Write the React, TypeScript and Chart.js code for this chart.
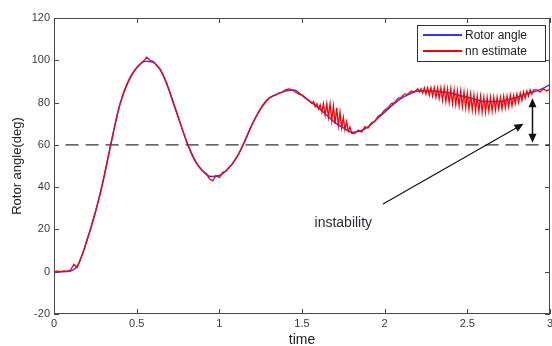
import { useEffect, useRef } from 'react';
import { Chart, registerables } from 'chart.js';

Chart.register(...registerables);

// ---- data ----
// Rotor angle, sampled every 0.05 s from t = 0
const rotorTimeStep = 0.05;
const rotorAngle = [
  0, 0, 0.3, 4, 15, 28, 44, 62.5, 79.5, 90,
  96.5, 99.5, 99, 94.5, 85, 73.5, 62, 53, 47.5, 45,
  45.5, 48.5, 53.5, 61, 70, 77, 82, 84, 85.5, 86,
  83.5, 80.5, 77.5, 74, 70.5, 68, 66, 66.5, 68.5, 72,
  75.5, 79, 82, 84, 85.5, 85.5, 85.5, 85, 84.5, 83.5,
  82.5, 81.5, 80.5, 80.5, 80.5, 81.5, 82.5, 84, 85, 86.5,
  88.5,
];

// nn estimate, read piece by piece (start time, sampling step, values)
const nnEarlyStart = 0;
const nnEarlyStep = 0.02;
const nnEarly = [
  0, 0.3, 0, 0.4, 0.2, 0.8, 3.5, 2, 6, 10,
  15, 20, 25.5, 31, 37, 44, 51.5, 59, 66.5, 73.5,
  79.5, 84.5, 88.5, 92, 94.5, 96.5, 98, 99.5, 101.5, 100,
  99.5, 97.5, 96, 93, 89.5, 85, 80, 75.5, 71, 66.5,
  62, 58, 54.5, 51.5, 49.5, 47.5, 46.5, 44, 43, 45.5,
  44.5, 47, 47.5, 49.5, 51, 53.5, 56, 59.5, 63, 66.5,
  70, 73, 76, 78.5, 80.5, 82, 83, 83.5, 84.5, 85,
  86, 86.5, 86, 85, 84, 83.5, 82, 81,
];
const nnBurst1Start = 1.56;
const nnBurst1Step = 0.01;
const nnBurst1 = [
  79.5, 80.5, 78, 79.5, 77, 79, 75.5, 79.5, 74, 79.5,
  73, 79.5, 71.5, 78.5, 70, 77.5, 69, 75.5, 68, 73,
  67, 71, 66.5, 68.5, 65.5,
];
const nnMidStart = 1.82;
const nnMidStep = 0.02;
const nnMid = [
  65.5, 67, 66, 68.5, 68, 70.5, 71, 73.5, 74.5,
  76.5, 77.5, 79.5, 80, 82, 82.5, 84, 84, 85.5, 85,
];
const nnBurst2Start = 2.2;
const nnBurst2Step = 0.01;
const nnBurst2 = [
  86.5, 85, 86.5, 84.5, 87, 84, 87, 83.5, 87, 83,
  87, 82.5, 87, 82, 87, 81, 87, 80.5, 86.5, 80,
  86.5, 79.5, 86, 79, 85.5, 78.5, 85.5, 78, 85, 77.5,
  84.5, 77, 84, 76.5, 83.5, 76, 83, 76, 83, 75.5,
  82.5, 75.5, 82.5, 76, 82.5, 76, 82.5, 76.5, 82.5, 77,
  82.5, 77, 83, 77.5, 83, 78, 83.5, 78.5, 83.5, 79.5,
  84, 80, 84.5, 81, 85, 82, 85.5, 83, 86, 84,
  86,
];
const nnLateStart = 2.92;
const nnLateStep = 0.02;
const nnLate = [86, 85, 86.5, 85.5, 86.5];

const referenceLevel = 60;
const referenceSpan = [0.07, 3];

const xTickValues = [0, 0.5, 1, 1.5, 2, 2.5, 3];
const yTickValues = [-20, 0, 20, 40, 60, 80, 100, 120];

const seriesLabels = ['Rotor angle', 'nn estimate'];
const xTitle = 'time';
const yTitle = 'Rotor angle(deg)';

const annotationText = 'instability';
const annotationAt = [1.75, 23];
const pointerFrom = [1.99, 32];
const pointerTo = [2.84, 70];
const marginArrowX = 2.89;
const marginArrowRange = [61, 82];

const BLUE = '#3434ff';
const RED = '#ff0000';
const FONT = '"Liberation Sans", Arial, Helvetica, sans-serif';

function piece(start: number, step: number, values: number[]) {
  return values.map((v, i) => ({ x: +(start + i * step).toFixed(3), y: v }));
}

function arrowHead(ctx: CanvasRenderingContext2D, x: number, y: number, angle: number, len = 8, half = 3.5) {
  ctx.beginPath();
  ctx.moveTo(x, y);
  ctx.lineTo(x - len * Math.cos(angle) + half * Math.sin(angle), y - len * Math.sin(angle) - half * Math.cos(angle));
  ctx.lineTo(x - len * Math.cos(angle) - half * Math.sin(angle), y - len * Math.sin(angle) + half * Math.cos(angle));
  ctx.closePath();
  ctx.fill();
}

const framePlugin = {
  id: 'matlabFrame',
  beforeDatasetsDraw(chart: any) {
    const { ctx, chartArea, scales } = chart;
    const { left, right, top, bottom } = chartArea;
    ctx.save();
    ctx.strokeStyle = '#4a4a4a';
    ctx.lineWidth = 1;
    ctx.strokeRect(Math.round(left) + 0.5, Math.round(top) + 0.5, Math.round(right - left) - 1, Math.round(bottom - top) - 1);
    ctx.beginPath();
    for (const v of xTickValues) {
      const px = Math.round(scales.x.getPixelForValue(v)) + 0.5;
      ctx.moveTo(px, bottom);
      ctx.lineTo(px, bottom - 5);
      ctx.moveTo(px, top);
      ctx.lineTo(px, top + 5);
    }
    for (const v of yTickValues) {
      const py = Math.round(scales.y.getPixelForValue(v)) + 0.5;
      ctx.moveTo(left, py);
      ctx.lineTo(left + 5, py);
      ctx.moveTo(right, py);
      ctx.lineTo(right - 5, py);
    }
    ctx.stroke();
    ctx.restore();
  },
  afterDraw(chart: any) {
    const { ctx, scales } = chart;
    const X = (v: number) => scales.x.getPixelForValue(v);
    const Y = (v: number) => scales.y.getPixelForValue(v);
    ctx.save();
    // legend box
    ctx.fillStyle = '#ffffff';
    ctx.fillRect(417, 25, 129, 37);
    ctx.strokeStyle = '#333333';
    ctx.lineWidth = 1;
    ctx.strokeRect(417.5, 25.5, 128, 36);
    const rows = [
      { label: seriesLabels[0], color: BLUE, y: 35 },
      { label: seriesLabels[1], color: RED, y: 51 },
    ];
    ctx.font = `12px ${FONT}`;
    ctx.textBaseline = 'middle';
    ctx.textAlign = 'left';
    for (const r of rows) {
      ctx.strokeStyle = r.color;
      ctx.lineWidth = 2;
      ctx.beginPath();
      ctx.moveTo(423, r.y);
      ctx.lineTo(462, r.y);
      ctx.stroke();
      ctx.fillStyle = '#222222';
      ctx.fillText(r.label, 465, r.y + 0.5);
    }
    // double arrow
    ctx.strokeStyle = '#111111';
    ctx.fillStyle = '#111111';
    ctx.lineWidth = 1.5;
    const ax = Math.round(X(marginArrowX)) + 0.5;
    const ay1 = Y(marginArrowRange[1]);
    const ay2 = Y(marginArrowRange[0]);
    ctx.beginPath();
    ctx.moveTo(ax, ay1 + 6);
    ctx.lineTo(ax, ay2 - 6);
    ctx.stroke();
    arrowHead(ctx, ax, ay1, -Math.PI / 2, 9, 4);
    arrowHead(ctx, ax, ay2, Math.PI / 2, 9, 4);
    // pointer arrow
    const px1 = X(pointerFrom[0]), py1 = Y(pointerFrom[1]);
    const px2 = X(pointerTo[0]), py2 = Y(pointerTo[1]);
    const ang = Math.atan2(py2 - py1, px2 - px1);
    ctx.lineWidth = 1.2;
    ctx.beginPath();
    ctx.moveTo(px1, py1);
    ctx.lineTo(px2 - 6 * Math.cos(ang), py2 - 6 * Math.sin(ang));
    ctx.stroke();
    arrowHead(ctx, px2, py2, ang, 9, 4);
    // annotation text
    ctx.font = `14px ${FONT}`;
    ctx.fillStyle = '#2a2a3a';
    ctx.textAlign = 'center';
    ctx.textBaseline = 'middle';
    ctx.fillText(annotationText, X(annotationAt[0]), Y(annotationAt[1]));
    ctx.restore();
  },
};

export default function App() {
  const ref = useRef<HTMLCanvasElement | null>(null);
  useEffect(() => {
    if (!ref.current) return;
    const rotorPts = piece(0, rotorTimeStep, rotorAngle);
    const nnPts = [
      ...piece(nnEarlyStart, nnEarlyStep, nnEarly),
      ...piece(nnBurst1Start, nnBurst1Step, nnBurst1),
      ...piece(nnMidStart, nnMidStep, nnMid),
      ...piece(nnBurst2Start, nnBurst2Step, nnBurst2),
      ...piece(nnLateStart, nnLateStep, nnLate),
    ];
    const chart = new Chart(ref.current, {
      type: 'line',
      data: {
        datasets: [
          {
            label: seriesLabels[1],
            data: nnPts,
            borderColor: RED,
            borderWidth: 1.3,
            pointRadius: 0,
            tension: 0,
            order: 0,
          },
          {
            label: seriesLabels[0],
            data: rotorPts,
            borderColor: BLUE,
            borderWidth: 1.5,
            pointRadius: 0,
            cubicInterpolationMode: 'monotone',
            order: 1,
          },
          {
            label: 'reference',
            data: referenceSpan.map((t) => ({ x: t, y: referenceLevel })),
            borderColor: '#333333',
            borderWidth: 1.4,
            borderDash: [13, 7],
            pointRadius: 0,
            order: 2,
          },
        ],
      },
      options: {
        animation: false,
        responsive: false,
        devicePixelRatio: 1,
        layout: { padding: { top: 18, right: 2, left: 0, bottom: 0 } },
        plugins: { legend: { display: false }, tooltip: { enabled: false } },
        scales: {
          x: {
            type: 'linear',
            min: 0,
            max: 3,
            afterFit: (s: any) => { s.height = 32; s.paddingLeft = 0; s.paddingRight = 0; },
            afterBuildTicks: (s: any) => { s.ticks = xTickValues.map((v) => ({ value: v })); },
            grid: { display: false, drawTicks: false },
            border: { display: false },
            ticks: {
              padding: 3,
              color: '#3a3a3a',
              font: { family: FONT, size: 11 },
              maxRotation: 0,
              autoSkip: false,
              callback: (v: any) => String(v),
            },
            title: { display: true, text: xTitle, color: '#222222', font: { family: FONT, size: 14, lineHeight: 1 }, padding: { top: 0, bottom: -1 } },
          },
          y: {
            type: 'linear',
            min: -20,
            max: 120,
            afterFit: (s: any) => { s.width = 54; s.paddingTop = 0; s.paddingBottom = 0; },
            afterBuildTicks: (s: any) => { s.ticks = yTickValues.map((v) => ({ value: v })); },
            grid: { display: false, drawTicks: false },
            border: { display: false },
            ticks: { padding: 4, color: '#3a3a3a', font: { family: FONT, size: 11 }, callback: (v: any) => String(v) },
            title: { display: true, text: yTitle, color: '#222222', font: { family: FONT, size: 13 }, padding: { top: 10, bottom: 0 } },
          },
        },
      },
      plugins: [framePlugin],
    });
    return () => chart.destroy();
  }, []);
  return (
    <div style={{ position: 'fixed', left: 0, top: 0, width: 552, height: 346, background: '#fff' }}>
      <canvas ref={ref} width={552} height={346} style={{ display: 'block' }} />
    </div>
  );
}
